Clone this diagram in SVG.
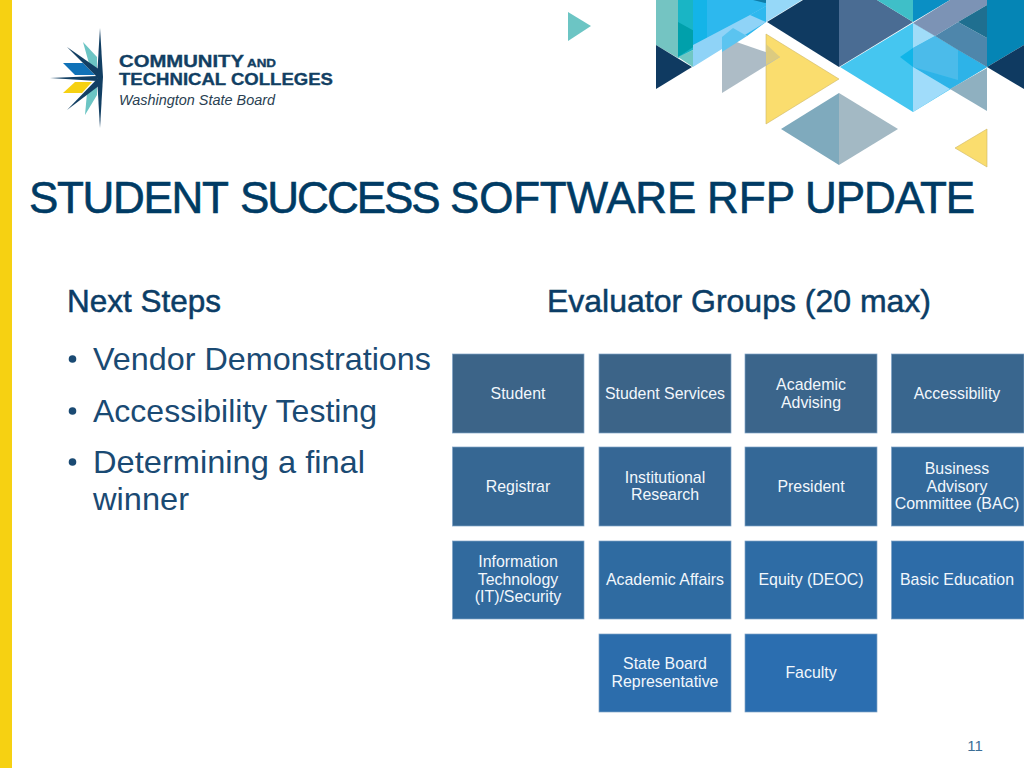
<svg xmlns="http://www.w3.org/2000/svg" width="1024" height="768" viewBox="0 0 1024 768">
<style>
.sans{font-family:"Liberation Sans",Arial,sans-serif}
.box{stroke:#7FA3C7;stroke-width:.7}
.lbl{font-family:"Liberation Sans",Arial,sans-serif;font-size:15.9px;fill:#F2F7FC;text-anchor:middle}
.head{font-family:"Liberation Sans",Arial,sans-serif;font-size:31.5px;fill:#0B3D66;stroke:#0B3D66;stroke-width:.5}
.body{font-family:"Liberation Sans",Arial,sans-serif;font-size:31.5px;fill:#1A4A73}
.logo{font-family:"Liberation Sans",Arial,sans-serif;font-weight:700;fill:#123F63;stroke:#123F63;stroke-width:.35}
</style>
<rect width="1024" height="768" fill="#FFFFFF"/>
<rect id="side-bar" x="0" y="0" width="12" height="768" fill="#F6D112"/>
<g id="decor">
<polygon points="568,12 591,26 568,41" fill="#6CC5C4"/>
<polygon points="656,0 678,0 678,58 656,45" fill="#74C4C2"/>
<polygon points="678,0 693,0 693,50 678,58" fill="#19B5C5"/>
<polygon points="678,22 707,38 678,57" fill="#00A0AB"/>
<polygon points="693,0 707,0 707,38 693,47" fill="#14B4E8"/>
<polygon points="707,0 766,0 766,22 747,36 733,28 693,47 707,38" fill="#2DB8EE"/>
<polygon points="753,0 765,3 777,0" fill="#0F7CA8"/>
<polygon points="678,57 693,50 693,67" fill="#6FC7C3"/>
<polygon points="693,67 693,45 750,15 766,6 766,22 722,49" fill="#8FD3F7"/>
<polygon points="750,15 766,6 766,22" fill="#2DB8EE"/>
<polygon points="766,22 766,0 802,0" fill="#96D8F8"/>
<polygon points="656,45 692,67 656,89" fill="#0F3A61"/>
<polygon points="766,34 839,79 766,124" fill="#FADD6E" stroke="#CFB765" stroke-width=".6"/>
<polygon points="722,37 722,93 780,57" fill="#A9B8C3" fill-opacity=".95"/>
<polygon points="766,44 780,57 766,65" fill="#DCCB80"/>
<polygon points="722,37 733,28 747,36 722,52" fill="#5BC4F0"/>
<polygon points="767,22 803,0 839,0 839,67" fill="#0F3A61"/>
<polygon points="839,0 877,0 913,22 839,67" fill="#4A6C93"/>
<polygon points="877,0 913,22 913,0" fill="#3FBFC8"/>
<polygon points="913,0 950,0 913,22" fill="#0A8FC4"/>
<polygon points="987,0 1024,0 1024,45 987,67" fill="#0585B5"/>
<polygon points="987,67 1024,45 1024,89" fill="#0F3A61"/>
<polygon points="840,67 913,23 987,67 913,112" fill="#45C6F0"/>
<polygon points="913,23 935,36 913,48" fill="#A0DCF8"/>
<polygon points="900,57 913,48 913,67" fill="#10B5E8"/>
<polygon points="913,48 935,36 958,50 958,80 913,67" fill="#4BBBEA"/>
<polygon points="958,50 987,67 950,89 913,67 958,80" fill="#2DB3E8"/>
<polygon points="913,67 950,89 913,112" fill="#A0DCFA"/>
<polygon points="950,89 987,68 987,111" fill="#8FB0C0"/>
<polygon points="913,23 950,0 987,0 987,5 958,22 935,36" fill="#7C93B5"/>
<polygon points="935,36 958,22 987,38 987,67 958,50" fill="#4E86AB"/>
<polygon points="958,22 987,5 987,38" fill="#1F6F90"/>
<polygon points="781,129 839,93 839,165" fill="#7FAABD"/>
<polygon points="839,93 898,129 839,165" fill="#A3B9C4"/>
<polygon points="987,129 955,148 987,167" fill="#FADD6E" stroke="#CFB765" stroke-width=".6"/>
</g>
<g id="logo">
<polygon points="83,42 97,57 97,75 90,67" fill="#6CC5C4"/>
<polygon points="85,115 97,95 97,80 87,93" fill="#6CC5C4"/>
<polygon points="63,63 83,63 95,75 75,75" fill="#1072B8"/>
<polygon points="63,93 75,82 92,82 82,93" fill="#F6D112"/>
<polygon points="67,47 100,70 98,78" fill="#123F63"/>
<polygon points="67,110 100,85 98,78" fill="#123F63"/>
<polygon points="50,78 97,76 97,81" fill="#123F63"/>
<polygon points="100,28 103,77 100,128 97,77" fill="#123F63"/>
<text class="logo" x="119" y="66.500" font-size="16.500" textLength="125" lengthAdjust="spacingAndGlyphs">COMMUNITY</text>
<text class="logo" x="247" y="66.500" font-size="11" textLength="29" lengthAdjust="spacingAndGlyphs">AND</text>
<text class="logo" x="119" y="85" font-size="16.500" textLength="214" lengthAdjust="spacingAndGlyphs">TECHNICAL COLLEGES</text>
<text x="119" y="105" font-family="Liberation Sans,Arial,sans-serif" font-style="italic" font-size="14.5" fill="#2A3F52" textLength="156" lengthAdjust="spacingAndGlyphs">Washington State Board</text>
</g>
<text id="title" class="sans" y="213" font-size="44" fill="#003B64" stroke="#003B64" stroke-width=".6"><tspan x="29" letter-spacing="-1.3">STUDENT</tspan> <tspan x="240" letter-spacing="-2">SUCCESS</tspan> <tspan x="450" letter-spacing="-.2">SOFTWARE</tspan> <tspan x="707">RFP</tspan> <tspan x="805" letter-spacing="-1">UPDATE</tspan></text>
<text class="head" x="67" y="312" textLength="154" lengthAdjust="spacingAndGlyphs">Next Steps</text>
<text class="head" x="547" y="312" textLength="384" lengthAdjust="spacingAndGlyphs">Evaluator Groups (20 max)</text>
<g id="bullets">
<circle cx="72.500" cy="359" r="3.800" fill="#1A4A73"/>
<text class="body" x="93" y="370" textLength="338" lengthAdjust="spacingAndGlyphs">Vendor Demonstrations</text>
<circle cx="72.500" cy="411" r="3.800" fill="#1A4A73"/>
<text class="body" x="93" y="422" textLength="284" lengthAdjust="spacingAndGlyphs">Accessibility Testing</text>
<circle cx="72.500" cy="462" r="3.800" fill="#1A4A73"/>
<text class="body" x="93" y="473" textLength="272" lengthAdjust="spacingAndGlyphs">Determining a final</text>
<text class="body" x="93" y="510" textLength="96" lengthAdjust="spacingAndGlyphs">winner</text>
</g>
<g id="connectors"/>
<g id="n-student"><rect class="box" x="452.5" y="354" width="131.500" height="79" fill="#3C6488"/><text class="lbl" x="518" y="399">Student</text></g>
<g id="n-student-services"><rect class="box" x="599" y="354" width="132" height="79" fill="#3C6488"/><text class="lbl" x="665" y="399">Student Services</text></g>
<g id="n-academic-advising"><rect class="box" x="745" y="354" width="132" height="79" fill="#3B658B"/><text class="lbl" x="811" y="390">Academic</text><text class="lbl" x="811" y="408">Advising</text></g>
<g id="n-accessibility"><rect class="box" x="891.500" y="354" width="132.500" height="79" fill="#39668E"/><text class="lbl" x="957" y="399">Accessibility</text></g>
<g id="n-registrar"><rect class="box" x="452.5" y="447" width="131.500" height="79" fill="#366793"/><text class="lbl" x="518" y="492">Registrar</text></g>
<g id="n-institutional-research"><rect class="box" x="599" y="447" width="132" height="79" fill="#366795"/><text class="lbl" x="665" y="483">Institutional</text><text class="lbl" x="665" y="500">Research</text></g>
<g id="n-president"><rect class="box" x="745" y="447" width="132" height="79" fill="#346897"/><text class="lbl" x="811" y="492">President</text></g>
<g id="n-bac"><rect class="box" x="891.500" y="447" width="132.500" height="79" fill="#33699A"/><text class="lbl" x="957" y="474">Business</text><text class="lbl" x="957" y="492">Advisory</text><text class="lbl" x="957" y="509">Committee (BAC)</text></g>
<g id="n-it-security"><rect class="box" x="452.5" y="541" width="131.500" height="78" fill="#316A9E"/><text class="lbl" x="518" y="567">Information</text><text class="lbl" x="518" y="585">Technology</text><text class="lbl" x="518" y="602">(IT)/Security</text></g>
<g id="n-academic-affairs"><rect class="box" x="599" y="541" width="132" height="78" fill="#2F6BA1"/><text class="lbl" x="665" y="585">Academic Affairs</text></g>
<g id="n-equity"><rect class="box" x="745" y="541" width="132" height="78" fill="#2E6CA5"/><text class="lbl" x="811" y="585">Equity (DEOC)</text></g>
<g id="n-basic-education"><rect class="box" x="891.500" y="541" width="132.500" height="78" fill="#2D6CA8"/><text class="lbl" x="957" y="585">Basic Education</text></g>
<g id="n-state-board"><rect class="box" x="599" y="634" width="132" height="78" fill="#2C6DAC"/><text class="lbl" x="665" y="669">State Board</text><text class="lbl" x="665" y="687">Representative</text></g>
<g id="n-faculty"><rect class="box" x="745" y="634" width="132" height="78" fill="#2B6EB0"/><text class="lbl" x="811" y="678">Faculty</text></g>
<text id="page-number" class="sans" x="975" y="751" font-size="15" fill="#3C6E96" text-anchor="middle">11</text>
</svg>
